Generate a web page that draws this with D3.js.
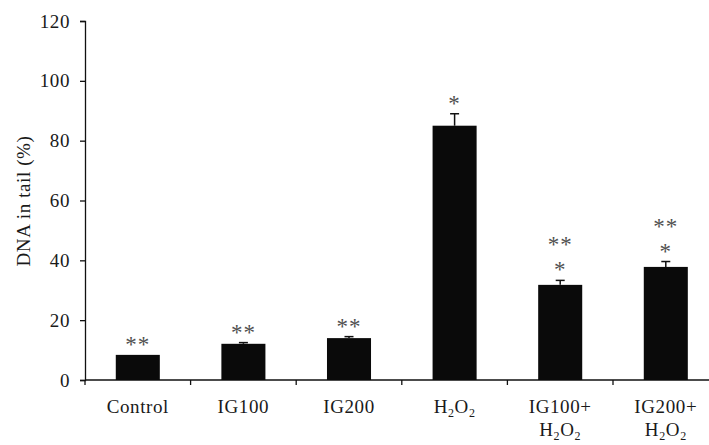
<!DOCTYPE html>
<html>
<head>
<meta charset="utf-8">
<script src="https://cdn.jsdelivr.net/npm/d3@7"></script>
<style>
  body { margin: 0; background: #fff; }
  svg text { font-family: "Liberation Serif", "DejaVu Serif", serif; fill: #1a1a1a; }
</style>
</head>
<body>
<div id="zone"></div>
<script>
(function() {
  "use strict";

  // donnees
  var categories = ["Control", "IG100", "IG200", "H2O2", "IG100+H2O2", "IG200+H2O2"];
  var values = [8.4, 12.1, 14.0, 85.0, 31.8, 37.8];
  var errors = [0, 0.4, 0.5, 4.0, 1.5, 1.8];
  var marks = [["**"], ["**"], ["**"], ["*"], ["*", "**"], ["*", "**"]];
  var yTicks = [0, 20, 40, 60, 80, 100, 120];

  var width = 709, height = 445;
  var margin = {left: 85, top: 21, bottom: 65};
  var bandW = 105.6;

  var svg = d3.select("#zone").append("svg")
      .attr("width", width)
      .attr("height", height);

  var x = d3.scaleBand()
      .domain(categories)
      .range([margin.left, margin.left + bandW * categories.length])
      .paddingInner(0.583)
      .paddingOuter(0.2915);

  var y = d3.scaleLinear()
      .domain([0, 120])
      .range([height - margin.bottom, margin.top]);

  // axe y
  var yAxis = svg.append("g")
      .attr("transform", "translate(" + margin.left + ",0)")
      .call(d3.axisLeft(y).tickValues(yTicks).tickSize(5).tickPadding(10));
  yAxis.select(".domain").attr("stroke", "#111").attr("stroke-width", 1.3);
  yAxis.selectAll(".tick line").attr("stroke", "#111").attr("stroke-width", 1.3);
  yAxis.selectAll("text").style("font-size", "19px").attr("fill", "#1a1a1a")
      .style("letter-spacing", "0.6px")
      .style("font-family", "Liberation Serif, DejaVu Serif, serif");

  // axe x
  var x0 = y(0);
  svg.append("line")
      .attr("x1", margin.left).attr("x2", width)
      .attr("y1", x0).attr("y2", x0)
      .attr("stroke", "#111").attr("stroke-width", 1.3);
  for (var i = 0; i <= categories.length; i++) {
    var tx = margin.left + i * bandW;
    svg.append("line")
        .attr("x1", tx).attr("x2", tx)
        .attr("y1", x0).attr("y2", x0 + 5)
        .attr("stroke", "#111").attr("stroke-width", 1.3);
  }

  // barres
  svg.selectAll(".bar")
      .data(categories)
      .enter().append("rect")
      .attr("class", "bar")
      .attr("x", function(d) { return x(d); })
      .attr("width", x.bandwidth())
      .attr("y", function(d, i) { return y(values[i]); })
      .attr("height", function(d, i) { return y(0) - y(values[i]); })
      .attr("fill", "#0a0a0a");

  // barres d'erreur
  categories.forEach(function(c, i) {
    if (errors[i] <= 0) return;
    var cx = x(c) + x.bandwidth() / 2;
    var top = y(values[i] + errors[i]);
    svg.append("line")
        .attr("x1", cx).attr("x2", cx)
        .attr("y1", y(values[i])).attr("y2", top)
        .attr("stroke", "#111").attr("stroke-width", 1.5);
    svg.append("line")
        .attr("x1", cx - 4.5).attr("x2", cx + 4.5)
        .attr("y1", top).attr("y2", top)
        .attr("stroke", "#111").attr("stroke-width", 1.5);
  });

  // asterisques
  categories.forEach(function(c, i) {
    var cx = x(c) + x.bandwidth() / 2;
    var base = y(values[i] + errors[i]);
    marks[i].forEach(function(m, k) {
      svg.append("text")
          .attr("x", cx)
          .attr("y", base - 3 - k * 25)
          .attr("text-anchor", "middle")
          .style("font-size", "23px")
          .style("letter-spacing", "1px")
          .style("fill", "#505050")
          .text(m);
    });
  });

  // etiquettes x (chiffres apres H ou O en indice)
  function writeFormula(t, s) {
    var parts = s.split(/(\d)/);
    var prevSub = false;
    parts.forEach(function(p, j) {
      if (p === "") return;
      if (/^\d$/.test(p) && /[HO]$/.test(parts[j - 1] || "")) {
        t.append("tspan").attr("dy", 4).style("font-size", "12px").text(p);
        prevSub = true;
      } else {
        t.append("tspan").attr("dy", prevSub ? -4 : 0).text(p);
        prevSub = false;
      }
    });
  }

  categories.forEach(function(c, i) {
    var cx = margin.left + (i + 0.5) * bandW;
    var lines = c.indexOf("+") > 0 ? [c.split("+")[0] + "+", c.split("+")[1]] : [c];
    lines.forEach(function(l, k) {
      var t = svg.append("text")
          .attr("x", cx)
          .attr("y", 413 + k * 23)
          .attr("text-anchor", "middle")
          .style("font-size", "19px")
          .style("letter-spacing", "0.6px");
      writeFormula(t, l);
    });
  });

  // titre axe y
  svg.append("text")
      .attr("transform", "translate(30,201) rotate(-90)")
      .attr("text-anchor", "middle")
      .style("font-size", "19px")
      .style("letter-spacing", "0.6px")
      .text("DNA in tail (%)");

})();
</script>
</body>
</html>
